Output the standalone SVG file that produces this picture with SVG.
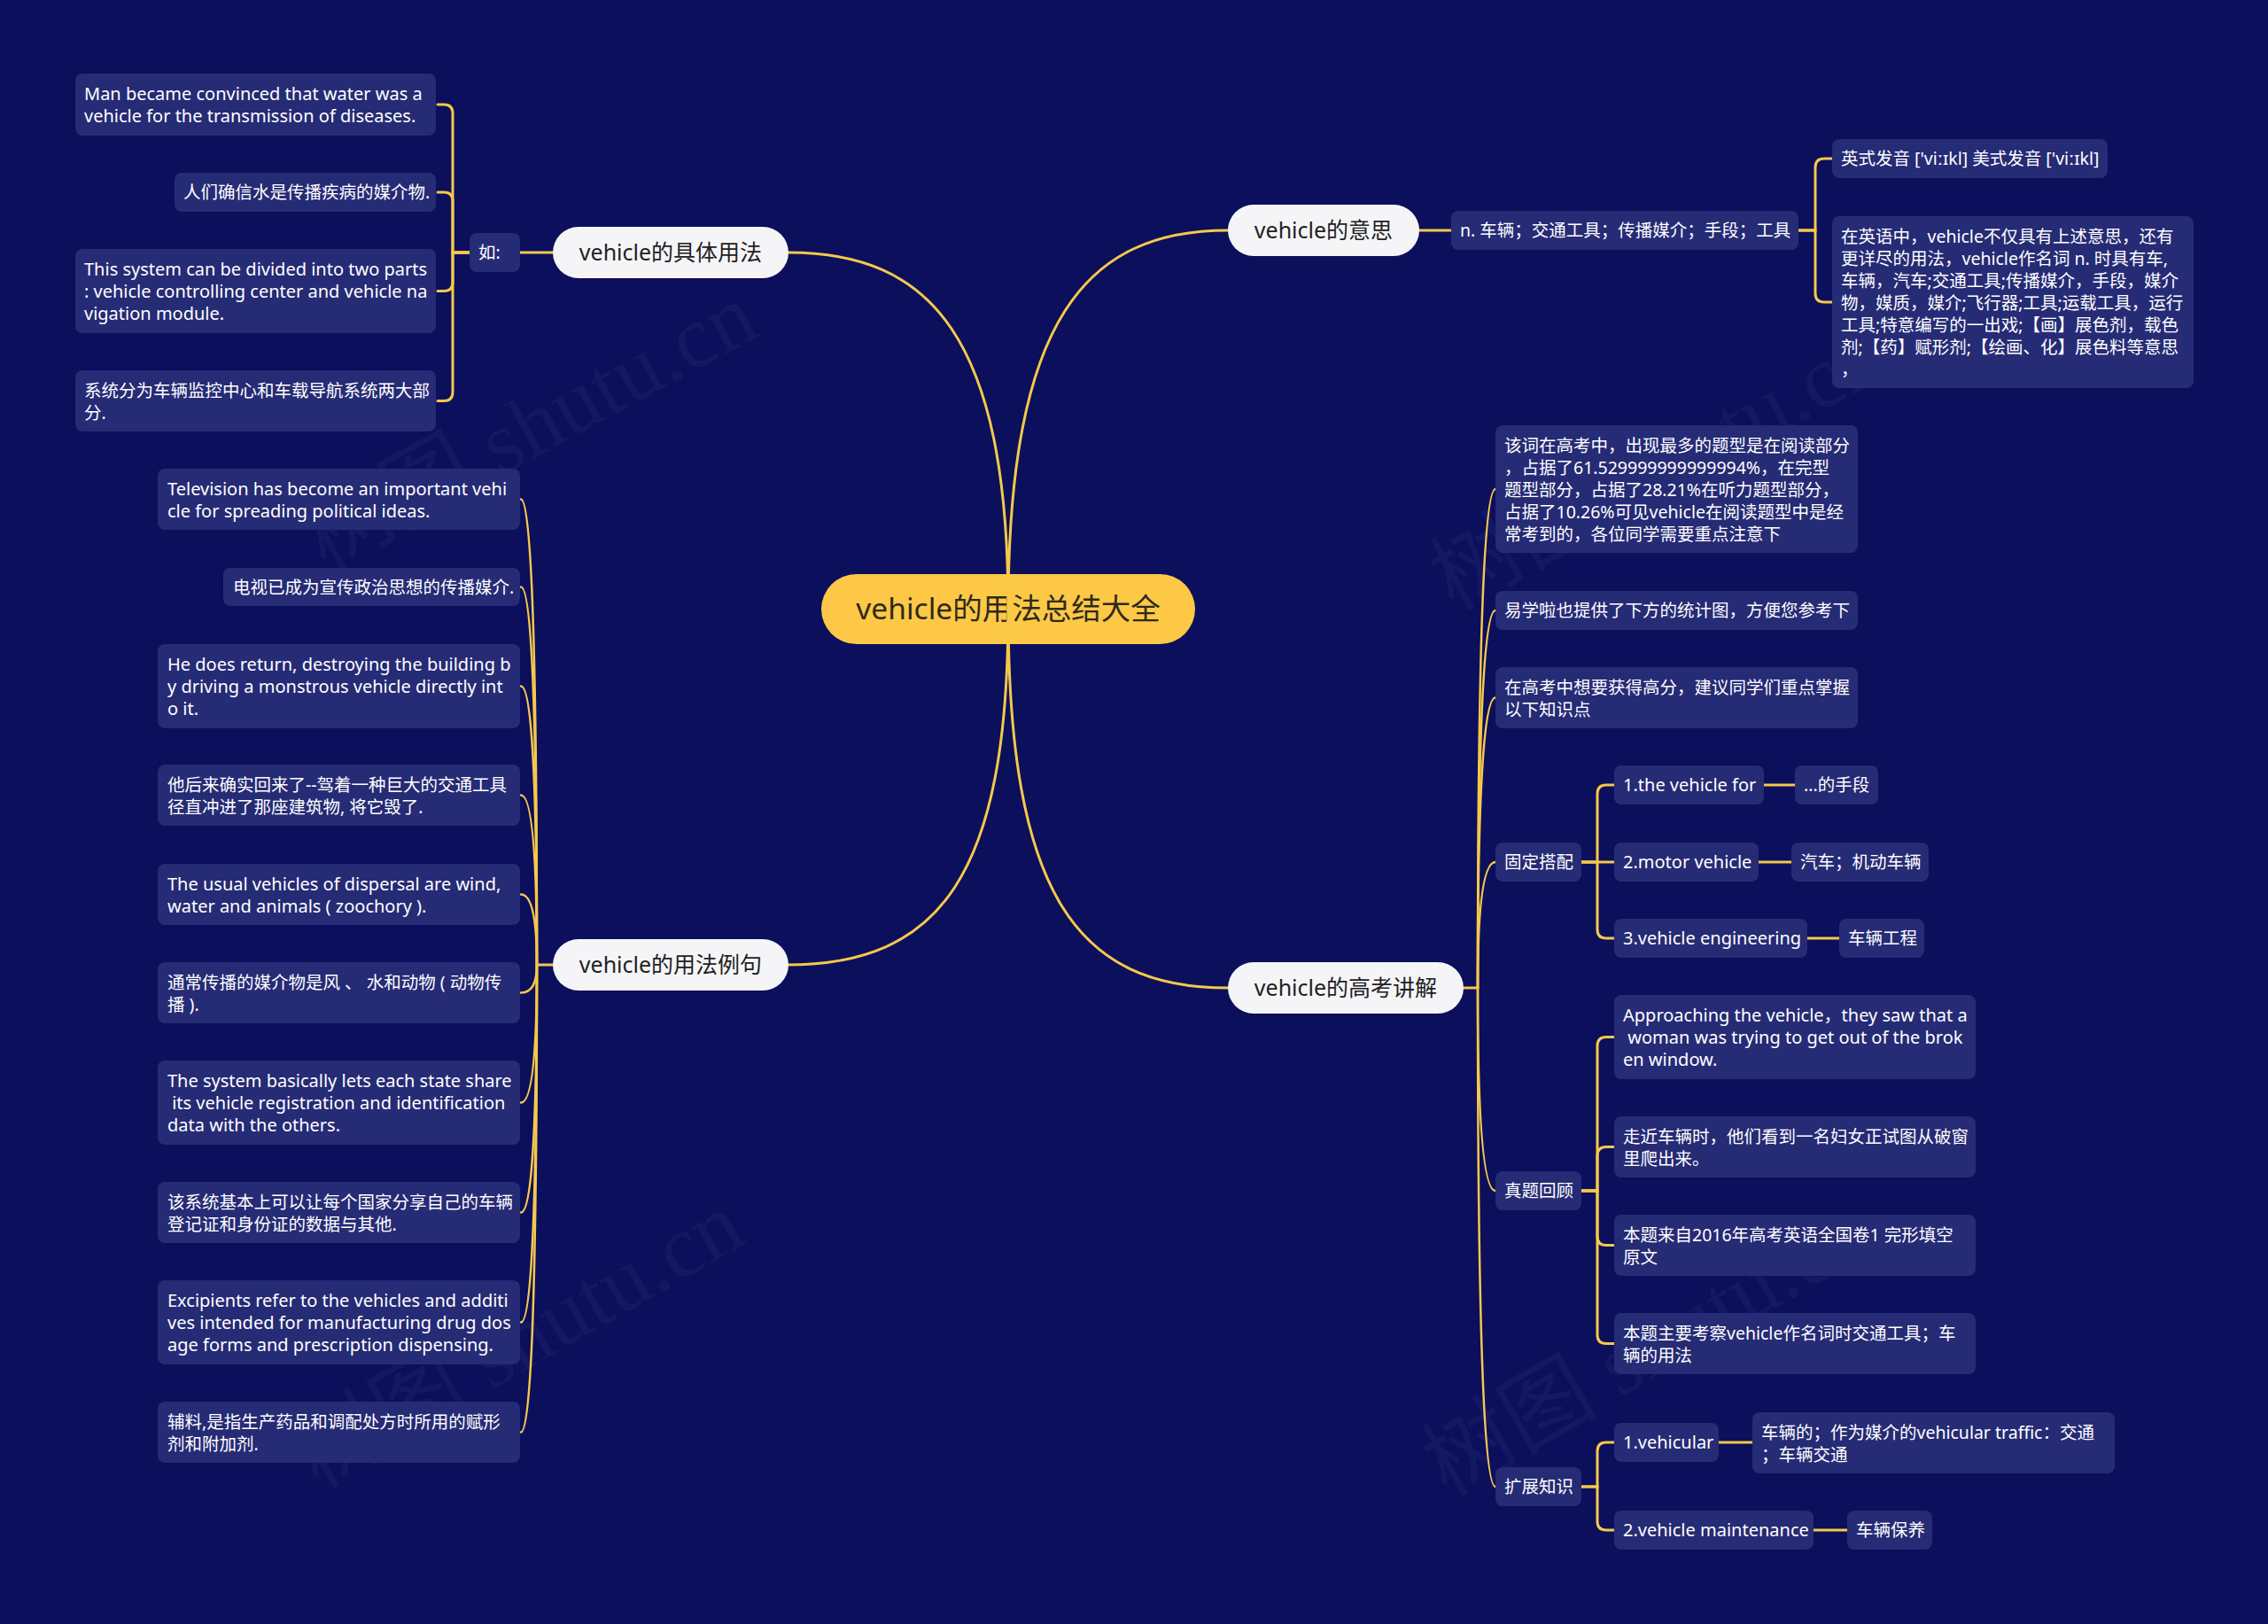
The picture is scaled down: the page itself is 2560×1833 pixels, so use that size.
<svg xmlns="http://www.w3.org/2000/svg" width="2560" height="1833" viewBox="0 0 2560 1833">
<style>
.box{fill:#262b75}
.t{font-family:'Noto Sans','Noto Sans CJK SC',sans-serif;font-size:19.5px;fill:#ffffff}
.te{font-family:'Noto Sans','Noto Sans CJK SC',sans-serif;font-size:20px;fill:#ffffff}
.main{fill:#f5f5f7}
.mt{font-family:'Noto Sans','Noto Sans CJK SC',sans-serif;font-size:25px;fill:#222222;text-anchor:middle}
.ct{font-family:'Noto Sans','Noto Sans CJK SC',sans-serif;font-size:33.5px;fill:#2e2a1c;text-anchor:middle}
.c{fill:none;stroke:#f6c84b;stroke-width:3;stroke-linecap:round}
.s{fill:none;stroke:#f6c84b;stroke-width:2.5;stroke-linecap:round}
.wm{font-family:'Liberation Serif','Noto Sans CJK SC',serif;font-size:100px;fill:#ffffff;fill-opacity:0.04}
</style>
<rect x="0" y="0" width="2560" height="1833" fill="#0b0f5c"/>
<g id="watermarks">
<text class="wm" transform="translate(367,645) rotate(-28.5)">树图 shutu.cn</text>
<text class="wm" transform="translate(359,1682) rotate(-30)">树图 shutu.cn</text>
<text class="wm" transform="translate(1640,690) rotate(-28.5)">树图 shutu.cn</text>
<text class="wm" transform="translate(1633,1690) rotate(-30)">树图 shutu.cn</text>
</g>
<g id="center">
<rect x="927" y="648" width="422" height="79" rx="39.5" fill="#fcc846"/>
<text class="ct" x="1138" y="699">vehicle的用法总结大全</text>
</g>
<g id="connectors">
<path class="c" d="M1138 688 C1138 380 1050 285 890 285"/>
<path class="c" d="M1138 688 C1138 360 1226 260 1386 260"/>
<path class="c" d="M1138 688 C1138 990 1060 1089 888 1089"/>
<path class="c" d="M1138 688 C1138 1010 1216 1115 1386 1115"/>
<path class="c" d="M624 285 H587"/>
<path class="c" d="M530 285 H511 V128 Q511 118 501 118 H494"/>
<path class="c" d="M530 285 H511 V227 Q511 217 501 217 H494"/>
<path class="c" d="M530 285 H511 V318.5 Q511 328.5 501 328.5 H494"/>
<path class="c" d="M530 285 H511 V442.5 Q511 452.5 501 452.5 H494"/>
<path class="c" d="M1602 260 H1638"/>
<path class="c" d="M2030 260 H2049 V189 Q2049 179 2059 179 H2068"/>
<path class="c" d="M2030 260 H2049 V331 Q2049 341 2059 341 H2068"/>
<path class="c" d="M624 1089 H606"/>
<path class="s" d="M606 1089 Q606 563.5 588 563.5"/>
<path class="s" d="M606 1089 Q606 662.5 588 662.5"/>
<path class="s" d="M606 1089 Q606 774.5 588 774.5"/>
<path class="s" d="M606 1089 Q606 897.5 588 897.5"/>
<path class="s" d="M606 1089 Q606 1009.5 588 1009.5"/>
<path class="s" d="M606 1089 Q606 1120.5 588 1120.5"/>
<path class="s" d="M606 1089 Q606 1244.5 588 1244.5"/>
<path class="s" d="M606 1089 Q606 1368.5 588 1368.5"/>
<path class="s" d="M606 1089 Q606 1492.5 588 1492.5"/>
<path class="s" d="M606 1089 Q606 1616.5 588 1616.5"/>
<path class="c" d="M1652 1115 H1668"/>
<path class="s" d="M1668 1115 Q1668 552 1688 552"/>
<path class="s" d="M1668 1115 Q1668 689 1688 689"/>
<path class="s" d="M1668 1115 Q1668 787.5 1688 787.5"/>
<path class="s" d="M1668 1115 Q1668 973 1688 973"/>
<path class="s" d="M1668 1115 Q1668 1344 1688 1344"/>
<path class="s" d="M1668 1115 Q1668 1678 1688 1678"/>
<path class="c" d="M1785 973 H1803 V896 Q1803 886 1813 886 H1822"/>
<path class="c" d="M1785 973 H1822"/>
<path class="c" d="M1785 973 H1803 V1049 Q1803 1059 1813 1059 H1822"/>
<path class="c" d="M1991 886 H2026"/>
<path class="c" d="M1985 973 H2022"/>
<path class="c" d="M2040 1059 H2076"/>
<path class="c" d="M1785 1344 H1803 V1180.5 Q1803 1170.5 1813 1170.5 H1822"/>
<path class="c" d="M1785 1344 H1803 V1304.5 Q1803 1294.5 1813 1294.5 H1822"/>
<path class="c" d="M1785 1344 H1803 V1395.5 Q1803 1405.5 1813 1405.5 H1822"/>
<path class="c" d="M1785 1344 H1803 V1506.5 Q1803 1516.5 1813 1516.5 H1822"/>
<path class="c" d="M1785 1678 H1803 V1638 Q1803 1628 1813 1628 H1822"/>
<path class="c" d="M1785 1678 H1803 V1717 Q1803 1727 1813 1727 H1822"/>
<path class="c" d="M1940 1628 H1978"/>
<path class="c" d="M2047 1727 H2085"/>
</g>
<g id="n-juti">
<rect class="main" x="624" y="256" width="266" height="58" rx="29"/>
<text class="mt" x="757" y="294">vehicle的具体用法</text>
</g>
<g id="n-ru">
<rect class="box" x="530" y="263" width="57" height="44" rx="8"/>
<text class="t" x="540" y="292">如:</text>
</g>
<g id="n-ru1">
<rect class="box" x="85" y="83" width="407" height="70" rx="8"/>
<text class="te" x="95" y="113">Man became convinced that water was a</text>
<text class="te" x="95" y="138">vehicle for the transmission of diseases.</text>
</g>
<g id="n-ru2">
<rect class="box" x="197" y="195" width="295" height="44" rx="8"/>
<text class="t" x="207" y="224">人们确信水是传播疾病的媒介物.</text>
</g>
<g id="n-ru3">
<rect class="box" x="85" y="281" width="407" height="95" rx="8"/>
<text class="te" x="95" y="311">This system can be divided into two parts</text>
<text class="te" x="95" y="336">: vehicle controlling center and vehicle na</text>
<text class="te" x="95" y="361">vigation module.</text>
</g>
<g id="n-ru4">
<rect class="box" x="85" y="418" width="407" height="69" rx="8"/>
<text class="t" x="95" y="448">系统分为车辆监控中心和车载导航系统两大部</text>
<text class="t" x="95" y="473">分.</text>
</g>
<g id="n-yisi">
<rect class="main" x="1386" y="231" width="216" height="58" rx="29"/>
<text class="mt" x="1494" y="269">vehicle的意思</text>
</g>
<g id="n-yisi1">
<rect class="box" x="1638" y="238" width="392" height="44" rx="8"/>
<text class="t" x="1648" y="267">n. 车辆；交通工具；传播媒介；手段；工具</text>
</g>
<g id="n-yisi2">
<rect class="box" x="2068" y="157" width="311" height="44" rx="8"/>
<text class="t" x="2078" y="186">英式发音 ['viːɪkl] 美式发音 ['viːɪkl]</text>
</g>
<g id="n-yisi3">
<rect class="box" x="2068" y="244" width="408" height="194" rx="8"/>
<text class="t" x="2078" y="274">在英语中，vehicle不仅具有上述意思，还有</text>
<text class="t" x="2078" y="299">更详尽的用法，vehicle作名词 n. 时具有车,</text>
<text class="t" x="2078" y="324">车辆，汽车;交通工具;传播媒介，手段，媒介</text>
<text class="t" x="2078" y="349">物，媒质，媒介;飞行器;工具;运载工具，运行</text>
<text class="t" x="2078" y="374">工具;特意编写的一出戏;【画】展色剂，载色</text>
<text class="t" x="2078" y="399">剂;【药】赋形剂;【绘画、化】展色料等意思</text>
<text class="t" x="2078" y="424">，</text>
</g>
<g id="n-liju">
<rect class="main" x="624" y="1060" width="266" height="58" rx="29"/>
<text class="mt" x="757" y="1098">vehicle的用法例句</text>
</g>
<g id="n-liju1">
<rect class="box" x="178" y="529" width="409" height="69" rx="8"/>
<text class="te" x="189" y="559">Television has become an important vehi</text>
<text class="te" x="189" y="584">cle for spreading political ideas.</text>
</g>
<g id="n-liju2">
<rect class="box" x="252" y="641" width="335" height="43" rx="8"/>
<text class="t" x="263" y="670">电视已成为宣传政治思想的传播媒介.</text>
</g>
<g id="n-liju3">
<rect class="box" x="178" y="727" width="409" height="95" rx="8"/>
<text class="te" x="189" y="757">He does return, destroying the building b</text>
<text class="te" x="189" y="782">y driving a monstrous vehicle directly int</text>
<text class="te" x="189" y="807">o it.</text>
</g>
<g id="n-liju4">
<rect class="box" x="178" y="863" width="409" height="69" rx="8"/>
<text class="t" x="189" y="893">他后来确实回来了--驾着一种巨大的交通工具</text>
<text class="t" x="189" y="918">径直冲进了那座建筑物, 将它毁了.</text>
</g>
<g id="n-liju5">
<rect class="box" x="178" y="975" width="409" height="69" rx="8"/>
<text class="te" x="189" y="1005">The usual vehicles of dispersal are wind,</text>
<text class="te" x="189" y="1030">water and animals ( zoochory ).</text>
</g>
<g id="n-liju6">
<rect class="box" x="178" y="1086" width="409" height="69" rx="8"/>
<text class="t" x="189" y="1116">通常传播的媒介物是风 、 水和动物 ( 动物传</text>
<text class="t" x="189" y="1141">播 ).</text>
</g>
<g id="n-liju7">
<rect class="box" x="178" y="1197" width="409" height="95" rx="8"/>
<text class="te" x="189" y="1227">The system basically lets each state share</text>
<text class="te" x="189" y="1252" xml:space="preserve"> its vehicle registration and identification</text>
<text class="te" x="189" y="1277">data with the others.</text>
</g>
<g id="n-liju8">
<rect class="box" x="178" y="1334" width="409" height="69" rx="8"/>
<text class="t" x="189" y="1364">该系统基本上可以让每个国家分享自己的车辆</text>
<text class="t" x="189" y="1389">登记证和身份证的数据与其他.</text>
</g>
<g id="n-liju9">
<rect class="box" x="178" y="1445" width="409" height="95" rx="8"/>
<text class="te" x="189" y="1475">Excipients refer to the vehicles and additi</text>
<text class="te" x="189" y="1500">ves intended for manufacturing drug dos</text>
<text class="te" x="189" y="1525">age forms and prescription dispensing.</text>
</g>
<g id="n-liju10">
<rect class="box" x="178" y="1582" width="409" height="69" rx="8"/>
<text class="t" x="189" y="1612">辅料,是指生产药品和调配处方时所用的赋形</text>
<text class="t" x="189" y="1637">剂和附加剂.</text>
</g>
<g id="n-gaokao">
<rect class="main" x="1386" y="1086" width="266" height="58" rx="29"/>
<text class="mt" x="1519" y="1124">vehicle的高考讲解</text>
</g>
<g id="n-gk1">
<rect class="box" x="1688" y="480" width="409" height="144" rx="8"/>
<text class="t" x="1698" y="510">该词在高考中，出现最多的题型是在阅读部分</text>
<text class="t" x="1698" y="535">，占据了61.529999999999994%，在完型</text>
<text class="t" x="1698" y="560">题型部分，占据了28.21%在听力题型部分，</text>
<text class="t" x="1698" y="585">占据了10.26%可见vehicle在阅读题型中是经</text>
<text class="t" x="1698" y="610">常考到的，各位同学需要重点注意下</text>
</g>
<g id="n-gk2">
<rect class="box" x="1688" y="667" width="409" height="44" rx="8"/>
<text class="t" x="1698" y="696">易学啦也提供了下方的统计图，方便您参考下</text>
</g>
<g id="n-gk3">
<rect class="box" x="1688" y="753" width="409" height="69" rx="8"/>
<text class="t" x="1698" y="783">在高考中想要获得高分，建议同学们重点掌握</text>
<text class="t" x="1698" y="808">以下知识点</text>
</g>
<g id="n-guding">
<rect class="box" x="1688" y="951" width="97" height="44" rx="8"/>
<text class="t" x="1698" y="980">固定搭配</text>
</g>
<g id="n-gd1">
<rect class="box" x="1822" y="864" width="169" height="44" rx="8"/>
<text class="te" x="1832" y="893">1.the vehicle for</text>
</g>
<g id="n-gd1a">
<rect class="box" x="2026" y="864" width="94" height="44" rx="8"/>
<text class="t" x="2036" y="893">...的手段</text>
</g>
<g id="n-gd2">
<rect class="box" x="1822" y="951" width="163" height="44" rx="8"/>
<text class="te" x="1832" y="980">2.motor vehicle</text>
</g>
<g id="n-gd2a">
<rect class="box" x="2022" y="951" width="155" height="44" rx="8"/>
<text class="t" x="2032" y="980">汽车；机动车辆</text>
</g>
<g id="n-gd3">
<rect class="box" x="1822" y="1037" width="218" height="44" rx="8"/>
<text class="te" x="1832" y="1066">3.vehicle engineering</text>
</g>
<g id="n-gd3a">
<rect class="box" x="2076" y="1037" width="96" height="44" rx="8"/>
<text class="t" x="2086" y="1066">车辆工程</text>
</g>
<g id="n-zhenti">
<rect class="box" x="1688" y="1322" width="97" height="44" rx="8"/>
<text class="t" x="1698" y="1351">真题回顾</text>
</g>
<g id="n-zt1">
<rect class="box" x="1822" y="1123" width="408" height="95" rx="8"/>
<text class="te" x="1832" y="1153">Approaching the vehicle，they saw that a</text>
<text class="te" x="1832" y="1178" xml:space="preserve"> woman was trying to get out of the brok</text>
<text class="te" x="1832" y="1203">en window.</text>
</g>
<g id="n-zt2">
<rect class="box" x="1822" y="1260" width="408" height="69" rx="8"/>
<text class="t" x="1832" y="1290">走近车辆时，他们看到一名妇女正试图从破窗</text>
<text class="t" x="1832" y="1315">里爬出来。</text>
</g>
<g id="n-zt3">
<rect class="box" x="1822" y="1371" width="408" height="69" rx="8"/>
<text class="t" x="1832" y="1401">本题来自2016年高考英语全国卷1 完形填空</text>
<text class="t" x="1832" y="1426">原文</text>
</g>
<g id="n-zt4">
<rect class="box" x="1822" y="1482" width="408" height="69" rx="8"/>
<text class="t" x="1832" y="1512">本题主要考察vehicle作名词时交通工具；车</text>
<text class="t" x="1832" y="1537">辆的用法</text>
</g>
<g id="n-kuozhan">
<rect class="box" x="1688" y="1656" width="97" height="44" rx="8"/>
<text class="t" x="1698" y="1685">扩展知识</text>
</g>
<g id="n-kz1">
<rect class="box" x="1822" y="1606" width="118" height="44" rx="8"/>
<text class="te" x="1832" y="1635">1.vehicular</text>
</g>
<g id="n-kz1a">
<rect class="box" x="1978" y="1594" width="409" height="69" rx="8"/>
<text class="t" x="1988" y="1624">车辆的；作为媒介的vehicular traffic：交通</text>
<text class="t" x="1988" y="1649">；车辆交通</text>
</g>
<g id="n-kz2">
<rect class="box" x="1822" y="1705" width="225" height="44" rx="8"/>
<text class="te" x="1832" y="1734">2.vehicle maintenance</text>
</g>
<g id="n-kz2a">
<rect class="box" x="2085" y="1705" width="96" height="44" rx="8"/>
<text class="t" x="2095" y="1734">车辆保养</text>
</g>
</svg>
